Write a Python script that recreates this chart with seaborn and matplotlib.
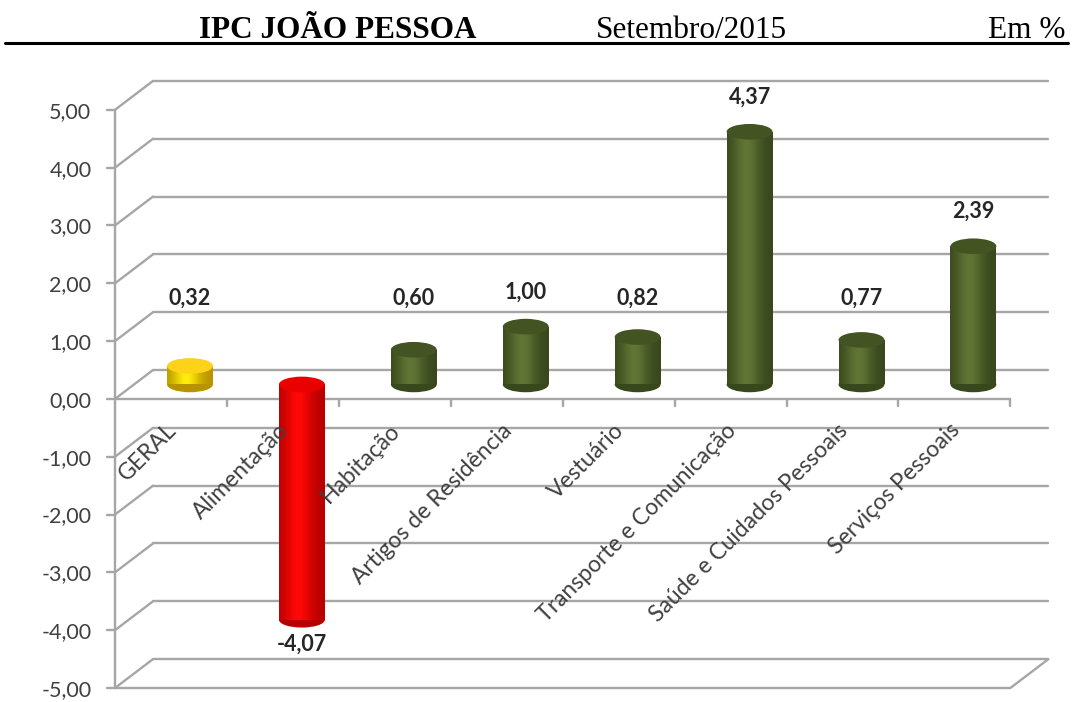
import numpy as np
import pandas as pd
import matplotlib
matplotlib.use("Agg")
import matplotlib.pyplot as plt
from matplotlib.patches import Ellipse
from matplotlib.colors import to_rgb
import seaborn as sns

# data
categorias = ["GERAL", "Alimentação", "Habitação", "Artigos de Residência", "Vestuário",
              "Transporte e Comunicação", "Saúde e Cuidados Pessoais", "Serviços Pessoais"]
variacao = [0.32, -4.07, 0.60, 1.00, 0.82, 4.37, 0.77, 2.39]
cores = ["#FFCC00", "#FF0000", "#4F6228", "#4F6228", "#4F6228", "#4F6228", "#4F6228", "#4F6228"]
y_ticks = [-5, -4, -3, -2, -1, 0, 1, 2, 3, 4, 5]

df = pd.DataFrame({"cat": categorias, "val": variacao})

sns.set_theme(style="white")
plt.rcParams["font.family"] = ["Lato", "DejaVu Sans"]

fig = plt.figure(figsize=(10.75, 7.02), dpi=100)
ax = fig.add_axes([115 / 1075, 14 / 702, 939 / 1075, 610 / 702])

# pseudo 3D depth
dx, dy = 0.34, 0.5
grid_c = "#a6a6a6"
n = len(categorias)
x0, x1 = -0.5, n - 0.5

# back wall gridlines + left diagonals
for t in y_ticks:
    ax.plot([x0 + dx, x1 + dx], [t + dy, t + dy], color=grid_c, lw=1.7, zorder=0, clip_on=False)
    ax.plot([x0, x0 + dx], [t, t + dy], color=grid_c, lw=1.7, zorder=0, clip_on=False)
    ax.plot([x0 - 0.075, x0], [t, t], color=grid_c, lw=1.7, zorder=0, clip_on=False)
# floor
ax.plot([x0, x1, x1 + dx], [-5, -5, -5 + dy], color=grid_c, lw=1.7, zorder=0, clip_on=False)
# front axes
ax.plot([x0, x0], [-5, 5], color=grid_c, lw=1.7, zorder=1, clip_on=False)
ax.plot([x0, x1], [0, 0], color=grid_c, lw=1.7, zorder=1, clip_on=False)
for k in range(n):
    ax.plot([k + 0.5, k + 0.5], [0, -0.13], color=grid_c, lw=1.7, zorder=1, clip_on=False)

# bars
sns.barplot(data=df, x="cat", y="val", hue="cat", palette=cores, legend=False,
            width=0.41, ax=ax, saturation=1, zorder=3)

eh = 0.27
for p, v, c in zip(ax.patches, variacao, cores):
    cx = p.get_x() + p.get_width() / 2 + dx / 2
    w = p.get_width()
    p.set_x(cx - w / 2)
    p.set_y(dy / 2)
    p.set_linewidth(0)
    base = dy / 2
    top = base + v
    rgb = np.array(to_rgb(c))
    dark = rgb * 0.72
    light = np.clip(rgb * 1.12 + 0.03, 0, 1)
    # horizontal gradient for cylinder shading
    s = np.linspace(0, 1, 64)
    prof = np.exp(-((s - 0.42) ** 2) / 0.09)
    img = dark[None, :] + (light - dark)[None, :] * prof[:, None]
    lo, hi = min(base, top), max(base, top)
    im = ax.imshow(img[None, :, :], extent=[cx - w / 2, cx + w / 2, lo, hi],
                   aspect="auto", zorder=3.5, interpolation="bilinear")
    im.set_clip_path(p)
    # end caps
    if v >= 0:
        ax.add_patch(Ellipse((cx, base), w, eh, color=dark, zorder=3.2, lw=0))
        ax.add_patch(Ellipse((cx, top), w, eh, color=rgb * 0.85 if c != "#FFCC00" else "#FFD21A",
                             zorder=4, lw=0))
    else:
        ax.add_patch(Ellipse((cx, top), w, eh, color=dark, zorder=3.2, lw=0))
        ax.add_patch(Ellipse((cx, base), w, eh, color=rgb * 0.92, zorder=4, lw=0))
    # value label
    txt = f"{v:.2f}".replace(".", ",")
    if v >= 0:
        ly = max(v + 0.85, 1.75)
    else:
        ly = top - 0.42
    ax.text(cx, ly, txt, ha="center", va="center", fontsize=15.5, fontweight="bold",
            color="#262626", zorder=5)

ax.set_xlim(x0, x1 + dx + 0.05)
ax.set_ylim(-5, 5 + dy + 0.05)
ax.set_yticks(y_ticks)
ax.set_yticklabels([f"{t:.2f}".replace(".", ",") for t in y_ticks], fontsize=15.5, color="#404040")
ax.tick_params(axis="y", pad=17, length=0)
ax.set_xticks(range(n))
ax.set_xticklabels([])
for k, lab in enumerate(categorias):
    ax.text(k - 0.05, -0.36, lab, rotation=45, ha="right", va="top", rotation_mode="anchor",
            fontsize=16.5, color="#404040", zorder=6)
ax.tick_params(axis="x", length=0)
ax.set_xlabel("")
ax.set_ylabel("")
for s in ax.spines.values():
    s.set_visible(False)

# header
hy = 1 - 38 / 702
fig.text(199 / 1075, hy, "IPC JOÃO PESSOA", family="Liberation Serif",
         fontweight="bold", fontsize=22.5, va="baseline", ha="left", color="black")
fig.text(596 / 1075, hy, "Setembro/2015", family="Liberation Serif",
         fontsize=22.5, va="baseline", ha="left", color="black")
fig.text(1066 / 1075, hy, "Em %", family="Liberation Serif",
         fontsize=22.5, va="baseline", ha="right", color="black")
fig.add_artist(plt.Line2D([5 / 1075, 1068 / 1075], [1 - 42.5 / 702, 1 - 42.5 / 702],
                          color="black", lw=2.2))

fig.savefig("out.png", dpi=100)
